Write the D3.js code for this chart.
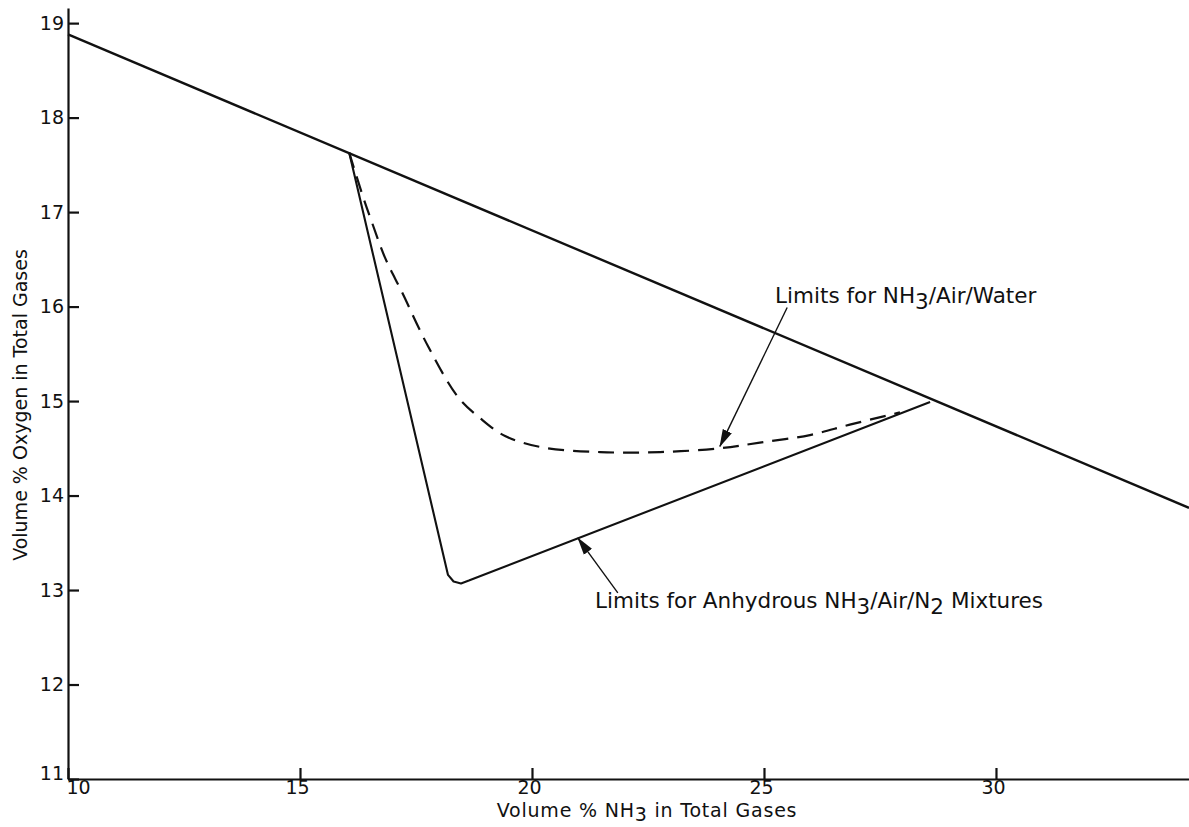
<!DOCTYPE html>
<html>
<head>
<meta charset="utf-8">
<script src="https://cdn.jsdelivr.net/npm/d3@7"></script>
<style>
  body { margin: 0; background: #fff; }
  svg { display: block; font-family: "DejaVu Sans", "Liberation Sans", Arial, sans-serif; }
  .axis path, .axis line { stroke: #111; stroke-width: 2.2; }
  .axis text { font-family: "DejaVu Sans", sans-serif; font-size: 19px; fill: #111; }
</style>
</head>
<body>
<svg id="chart"></svg>
<script>
// axis ticks
const xTicks = [10, 15, 20, 25, 30];
const yTicks = [11, 12, 13, 14, 15, 16, 17, 18, 19];

// upper boundary line (vol % NH3, vol % O2)
const boundaryNH3 = [10, 34.16];
const boundaryO2 = [18.88, 13.87];

// limits for anhydrous NH3/Air/N2 mixtures
const anhydrousNH3 = [16.06, 18.19, 18.31, 18.47, 18.64, 28.58];
const anhydrousO2 = [17.63, 13.16, 13.09, 13.07, 13.10, 14.99];

// limits for NH3/Air/Water
const waterNH3 = [16.06, 16.34, 16.53, 16.83, 17.20, 17.76, 18.41, 18.88, 19.42, 20.22, 21.47, 22.76, 24.05, 24.91, 25.99, 26.85, 27.93];
const waterO2 = [17.63, 17.19, 16.92, 16.52, 16.15, 15.58, 15.04, 14.82, 14.63, 14.51, 14.46, 14.46, 14.50, 14.56, 14.64, 14.75, 14.88];

const W = 1189, H = 827;
const svg = d3.select("#chart").attr("width", W).attr("height", H);

const x = d3.scaleLinear().domain([10, 34.16]).range([68, 1189]);
const y = d3.scaleLinear().domain([11, 19.16]).range([779, 8]);

// axes
svg.append("g").attr("class", "axis x_axis")
    .attr("transform", `translate(0, ${y(11)})`)
    .call(d3.axisBottom(x).tickValues(xTicks).tickSize(-11).tickSizeOuter(0).tickPadding(1))
    .call(g => g.selectAll(".tick text")
        .attr("text-anchor", d => d === 10 ? "start" : "middle")
        .attr("dx", d => d === 10 ? -2 : -3));

svg.append("g").attr("class", "axis y_axis")
    .attr("transform", `translate(${x(10)}, 0)`)
    .call(d3.axisLeft(y).tickValues(yTicks).tickSize(-11).tickSizeOuter(0).tickPadding(4))
    .call(g => g.selectAll(".tick text").attr("dy", d => d === 11 ? "0.05em" : "0.32em"));

svg.selectAll(".axis .domain").attr("fill", "none");

const line = d3.line().x(d => x(d[0])).y(d => y(d[1]));

svg.append("path")
    .datum(d3.zip(boundaryNH3, boundaryO2))
    .attr("d", line)
    .attr("fill", "none").attr("stroke", "#111").attr("stroke-width", 2.4);

svg.append("path")
    .datum(d3.zip(anhydrousNH3, anhydrousO2))
    .attr("d", line)
    .attr("fill", "none").attr("stroke", "#111").attr("stroke-width", 2.1)
    .attr("stroke-linejoin", "round");

svg.append("path")
    .datum(d3.zip(waterNH3, waterO2))
    .attr("d", line.curve(d3.curveCatmullRom))
    .attr("fill", "none").attr("stroke", "#111").attr("stroke-width", 2.2)
    .attr("stroke-dasharray", "16,9");

// arrow marker
svg.append("defs").append("marker")
    .attr("id", "head")
    .attr("markerUnits", "userSpaceOnUse")
    .attr("viewBox", "0 -6 18 12")
    .attr("refX", 17).attr("refY", 0)
    .attr("markerWidth", 18).attr("markerHeight", 12)
    .attr("orient", "auto")
    .append("path").attr("d", "M0,-5L18,0L0,5Z").attr("fill", "#111");

// annotations: arrow [tail NH3, tail O2, tip NH3, tip O2], text anchor [NH3, O2]
const notes = [
    { arrow: [25.50, 15.99, 24.05, 14.52], at: [25.24, 16.04], parts: ["Limits for NH", "3", "/Air/Water"] },
    { arrow: [21.85, 12.97, 20.99, 13.55], at: [21.36, 12.81], parts: ["Limits for Anhydrous NH", "3", "/Air/N", "2", " Mixtures"] }
];

notes.forEach(n => {
    svg.append("line")
        .attr("x1", x(n.arrow[0])).attr("y1", y(n.arrow[1]))
        .attr("x2", x(n.arrow[2])).attr("y2", y(n.arrow[3]))
        .attr("stroke", "#111").attr("stroke-width", 1.4)
        .attr("marker-end", "url(#head)");
    const t = svg.append("text")
        .attr("x", x(n.at[0])).attr("y", y(n.at[1]))
        .style("font-size", "21.5px").attr("fill", "#111");
    n.parts.forEach((p, i) => {
        const sub = i % 2 === 1;
        t.append("tspan")
            .attr("dy", i === 0 ? 0 : (sub ? "0.3em" : "-0.3em"))
            .text(p);
    });
});

// axis titles
const xt = svg.append("text")
    .attr("x", 647).attr("y", 817)
    .attr("text-anchor", "middle")
    .style("font-size", "19px").style("letter-spacing", "0.8px").attr("fill", "#111");
xt.append("tspan").text("Volume % NH");
xt.append("tspan").attr("dy", "0.22em").text("3");
xt.append("tspan").attr("dy", "-0.22em").text(" in Total Gases");

svg.append("text")
    .attr("transform", "translate(27, 405) rotate(-90)")
    .attr("text-anchor", "middle")
    .style("font-size", "19px").attr("fill", "#111")
    .text("Volume % Oxygen in Total Gases");
</script>
</body>
</html>
